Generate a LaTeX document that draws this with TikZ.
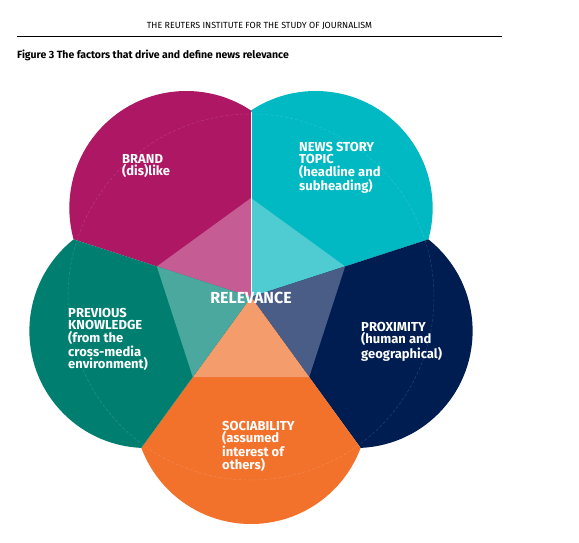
\documentclass[tikz,border=0pt]{standalone}
\usepackage{fontspec}
\setmainfont{Fira Sans}
\definecolor{magD}{HTML}{AD1763}
\definecolor{magL}{HTML}{C55D94}
\definecolor{cyaD}{HTML}{00B9C2}
\definecolor{cyaL}{HTML}{4ECCD2}
\definecolor{navD}{HTML}{001D51}
\definecolor{navL}{HTML}{4A5D87}
\definecolor{oraD}{HTML}{F2722C}
\definecolor{oraL}{HTML}{F59C6D}
\definecolor{teaD}{HTML}{007F71}
\definecolor{teaL}{HTML}{4AA89E}
\begin{document}
\begin{tikzpicture}[x=1pt,y=1pt,
  lbl/.style={text=white, font=\fontsize{13}{12.5}\selectfont\bfseries, align=left, anchor=north west, inner sep=0pt},
  faint/.style={white, opacity=0.15, line width=0.5pt, dash pattern=on 3pt off 2pt}]
\useasboundingbox (0,0) rectangle (579,542);
\fill[white] (0,0) rectangle (579,542);
\node[anchor=base, inner sep=0pt, font=\fontsize{8.9}{11}\selectfont] (hdr) at (259.5,513.7) {THE REUTERS INSTITUTE FOR THE STUDY OF JOURNALISM};
\coordinate (r1) at (17,505);
\coordinate (r2) at (502,505);
\draw[line width=1pt] (r1) -- (r2);
\node[anchor=base west, inner sep=0pt, font=\fontsize{10.5}{13}\selectfont\bfseries] (title) at (17,483.7) {Figure 3 The factors that drive and define news relevance};
\begin{scope}[shift={(251,245)}]
  \foreach \ang/\dk/\lt in {126/magD/magL, 54/cyaD/cyaL, -18/navD/navL, -90/oraD/oraL, 198/teaD/teaL} {
    \begin{scope}
      \clip (0,0) -- (\ang-36:300) -- (\ang:400) -- (\ang+36:300) -- cycle;
      \fill[\dk] (\ang:110) circle[radius=117];
      \fill[\lt] (0,0) -- (\ang-36:99) -- (\ang+36:99) -- cycle;
    \end{scope}
  }
  \draw[faint] (0,0) circle[radius=183];
  \draw[white, line width=0.6pt] (0,0) -- (90:185);
\end{scope}
\node[lbl] (brand) at (122,388) {BRAND\\(dis)like};
\node[lbl] (topic) at (299,400) {NEWS STORY\\TOPIC\\(headline and\\subheading)};
\node[lbl] (prev) at (68,234) {PREVIOUS\\KNOWLEDGE\\(from the\\cross-media\\environment)};
\node[lbl] (prox) at (361,220) {PROXIMITY\\(human and\\geographical)};
\node[lbl] (soc) at (222,121) {SOCIABILITY\\(assumed\\interest of\\others)};
\node[text=white, font=\fontsize{16}{18}\selectfont\bfseries, inner sep=0pt] (rel) at (251,244.5) {RELEVANCE};
\end{tikzpicture}
\end{document}
